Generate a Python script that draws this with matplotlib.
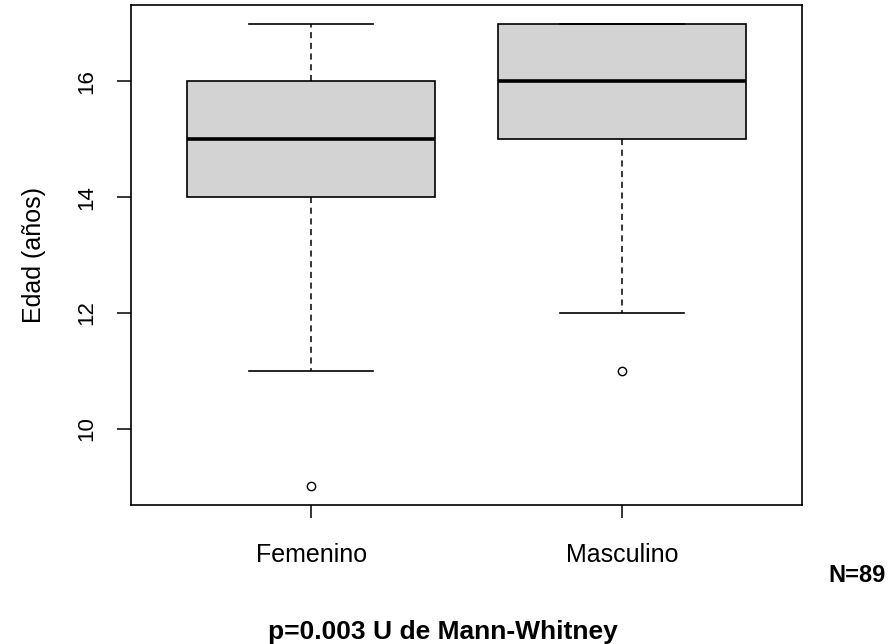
import matplotlib.pyplot as plt

plt.rcParams['font.family'] = ['Liberation Sans', 'DejaVu Sans']

GROUPS = ['Femenino', 'Masculino']
WHISK_LO = [11, 12]
Q1 = [14, 15]
MEDIAN = [15, 16]
Q3 = [16, 17]
WHISK_HI = [17, 17]
OUTLIERS = [[9], [11]]
Y_TICKS = [10, 12, 14, 16]

stats = []
for i, name in enumerate(GROUPS):
    stats.append({
        'label': name,
        'whislo': WHISK_LO[i],
        'q1': Q1[i],
        'med': MEDIAN[i],
        'q3': Q3[i],
        'whishi': WHISK_HI[i],
        'fliers': OUTLIERS[i],
    })

fig = plt.figure(figsize=(8.91, 6.44), dpi=100)
ax = fig.add_axes([131/891, 1-505/644, (802-131)/891, (505-5)/644])

ax.bxp(stats, positions=[1, 2], widths=0.8, patch_artist=True,
       boxprops=dict(facecolor='#d3d3d3', edgecolor='black', linewidth=1.2),
       medianprops=dict(color='black', linewidth=2.6),
       whiskerprops=dict(color='black', linewidth=1.1, linestyle=(0, (4, 3))),
       capprops=dict(color='black', linewidth=1.2),
       capwidths=0.4,
       flierprops=dict(marker='o', markersize=6, markerfacecolor='none',
                       markeredgecolor='black', markeredgewidth=1.0))

ax.set_xlim(0.42, 2.58)
ax.set_ylim(8.68, 17.32)
ax.set_yticks(Y_TICKS)
ax.set_yticklabels([str(t) for t in Y_TICKS], rotation=90, va='center')
ax.set_xticks([1, 2])
ax.set_xticklabels(GROUPS)

ax.tick_params(axis='y', length=10, width=1.1, pad=14, labelsize=16)
ax.tick_params(axis='x', length=9.5, width=1.1, pad=18, labelsize=18)
for sp in ax.spines.values():
    sp.set_linewidth(1.2)

ax.set_ylabel('Edad (años)', fontsize=18, labelpad=22)

fig.text(886/891, 1-575/644, 'N=89', ha='right', va='center',
         fontsize=17, fontweight='bold')
fig.text(443/891, 1-632/644, 'p=0.003 U de Mann-Whitney', ha='center',
         va='center', fontsize=19, fontweight='bold')

fig.savefig('out.png', dpi=100)
